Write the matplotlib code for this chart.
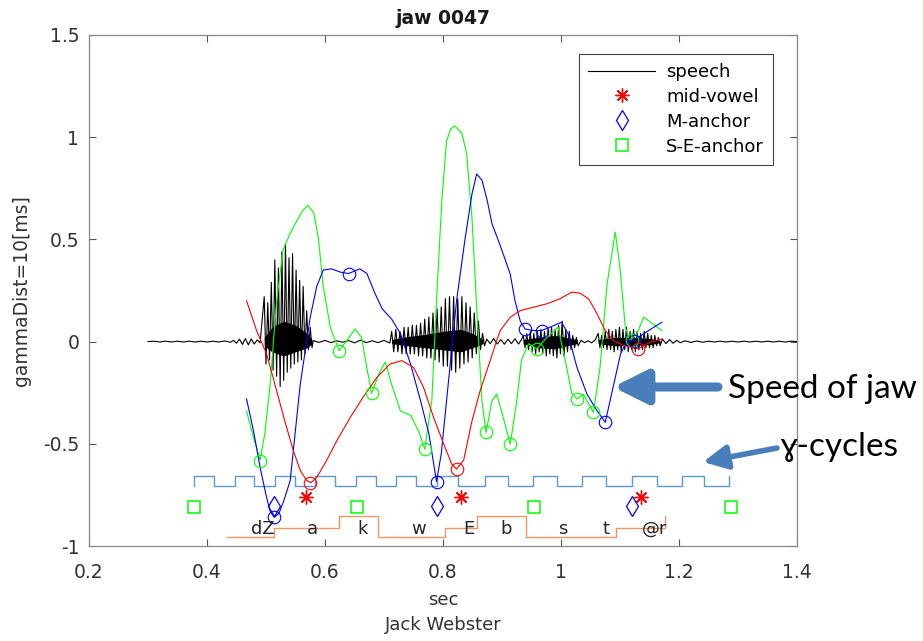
import matplotlib
matplotlib.use("Agg")
import matplotlib.pyplot as plt

plt.rcParams['font.family'] = ['DejaVu Sans']

# ---------------- data ----------------
# speech waveform: quiet parts + voiced bursts (extremes, in seconds / amplitude)
pre_t = [0.30, 0.31, 0.32, 0.33, 0.34, 0.35, 0.36, 0.37, 0.38, 0.39, 0.40, 0.41, 0.42,
         0.43, 0.44, 0.445, 0.450, 0.455, 0.460, 0.465, 0.470, 0.475, 0.480, 0.485, 0.490]
pre_v = [0.0, 0.002, -0.002, 0.002, -0.002, 0.002, -0.002, 0.002, -0.002, 0.002, -0.002,
         0.002, -0.002, 0.003, -0.003, 0.006, -0.008, 0.012, -0.014, 0.015, -0.016, 0.013,
         -0.012, 0.008, -0.006]

b1_t = [0.497, 0.500, 0.503, 0.506, 0.509, 0.512, 0.515, 0.518, 0.521, 0.524, 0.527, 0.530,
        0.533, 0.536, 0.539, 0.542, 0.545, 0.548, 0.551, 0.554, 0.557, 0.560, 0.563, 0.566,
        0.569, 0.572, 0.575, 0.578]
b1_v = [0.22, -0.11, 0.19, -0.09, 0.29, -0.14, 0.40, -0.17, 0.36, -0.22, 0.44, -0.19,
        0.48, -0.15, 0.41, -0.13, 0.43, -0.11, 0.35, -0.10, 0.30, -0.09, 0.27, -0.06,
        0.15, -0.04, 0.07, -0.03]

gap1_t = [0.58, 0.59, 0.60, 0.61, 0.62, 0.63, 0.64, 0.65, 0.66, 0.67, 0.68, 0.69, 0.70, 0.71]
gap1_v = [0.005, -0.004, 0.006, -0.005, 0.004, -0.003, 0.005, -0.006, 0.007, -0.005, 0.004,
          -0.005, 0.006, -0.007]

b2_t = [0.713, 0.7165, 0.720, 0.7235, 0.727, 0.7305, 0.734, 0.7375, 0.741, 0.7445, 0.748,
        0.7515, 0.755, 0.7585, 0.762, 0.7655, 0.769, 0.7725, 0.776, 0.7795, 0.783, 0.7865,
        0.790, 0.7935, 0.797, 0.8005, 0.804, 0.8075, 0.811, 0.8145, 0.818, 0.8215, 0.825,
        0.8285, 0.832, 0.8355, 0.839, 0.8425, 0.846, 0.8495, 0.853, 0.8565, 0.860, 0.8635,
        0.867, 0.8705]
b2_v = [0.05, -0.05, 0.06, -0.05, 0.05, -0.06, 0.07, -0.06, 0.07, -0.06, 0.08, -0.06,
        0.08, -0.07, 0.09, -0.07, 0.11, -0.08, 0.12, -0.08, 0.14, -0.09, 0.16, -0.10,
        0.17, -0.12, 0.21, -0.12, 0.22, -0.14, 0.22, -0.15, 0.21, -0.13, 0.22, -0.11,
        0.19, -0.10, 0.17, -0.08, 0.14, -0.06, 0.10, -0.04, 0.04, -0.02]

gap2_t = [0.874, 0.880, 0.886, 0.892, 0.898, 0.904, 0.910, 0.916, 0.922, 0.928, 0.933]
gap2_v = [0.012, -0.010, 0.015, -0.012, 0.010, -0.013, 0.012, -0.010, 0.014, -0.012, 0.010]

b3_t = [0.936, 0.939, 0.942, 0.945, 0.948, 0.951, 0.954, 0.957, 0.960, 0.963, 0.966, 0.969,
        0.972, 0.975, 0.978, 0.981, 0.984, 0.987, 0.990, 0.993, 0.996, 0.999, 1.002, 1.005,
        1.008, 1.011, 1.014, 1.017, 1.020, 1.023, 1.026, 1.029]
b3_v = [0.03, -0.03, 0.04, -0.04, 0.05, -0.05, 0.04, -0.06, 0.05, -0.05, 0.06, -0.06,
        0.05, -0.07, 0.06, -0.06, 0.07, -0.07, 0.06, -0.08, 0.08, -0.06, 0.10, -0.07,
        0.06, -0.05, 0.05, -0.04, 0.03, -0.03, 0.02, -0.02]

gap3_t = [1.034, 1.040, 1.046, 1.052, 1.058]
gap3_v = [0.006, -0.005, 0.004, -0.006, 0.008]

b4_t = [1.063, 1.066, 1.069, 1.072, 1.075, 1.078, 1.081, 1.084, 1.087, 1.090, 1.093, 1.096,
        1.099, 1.102, 1.105, 1.108, 1.111, 1.114, 1.117, 1.120, 1.123, 1.126, 1.129, 1.132,
        1.135, 1.138, 1.141, 1.144, 1.147, 1.150, 1.153, 1.156, 1.159, 1.162, 1.165, 1.168]
b4_v = [0.04, -0.03, 0.03, -0.03, 0.05, -0.04, 0.06, -0.04, 0.05, -0.05, 0.06, -0.04,
        0.07, -0.05, 0.06, -0.04, 0.07, -0.05, 0.05, -0.04, 0.06, -0.05, 0.05, -0.04,
        0.04, -0.04, 0.05, -0.03, 0.04, -0.03, 0.03, -0.03, 0.03, -0.02, 0.02, -0.02]

post_t = [1.172, 1.178, 1.184, 1.190, 1.196, 1.202, 1.21, 1.22, 1.23, 1.24, 1.25, 1.26,
          1.27, 1.28, 1.29, 1.30, 1.31, 1.32, 1.33, 1.34, 1.35, 1.36, 1.37, 1.38, 1.39, 1.40]
post_v = [0.012, -0.010, 0.010, -0.008, 0.006, -0.006, 0.004, -0.004, 0.003, -0.003,
          0.002, -0.002, 0.002, -0.002, 0.002, -0.002, 0.002, -0.002, 0.002, -0.002,
          0.002, -0.002, 0.002, -0.002, 0.002, 0.0]

# dense core of the voiced bursts
core_t = [[0.497, 0.51, 0.53, 0.55, 0.57, 0.578],
          [0.713, 0.74, 0.77, 0.80, 0.83, 0.85, 0.868],
          [0.936, 0.96, 0.99, 1.01, 1.027],
          [1.063, 1.09, 1.12, 1.15, 1.168]]
core_hi = [[0.02, 0.07, 0.10, 0.08, 0.04, 0.01],
           [0.01, 0.025, 0.035, 0.05, 0.06, 0.04, 0.01],
           [0.01, 0.02, 0.03, 0.02, 0.01],
           [0.01, 0.02, 0.02, 0.015, 0.005]]
core_lo = [[-0.02, -0.05, -0.07, -0.05, -0.03, -0.01],
           [-0.01, -0.02, -0.03, -0.04, -0.05, -0.03, -0.01],
           [-0.01, -0.03, -0.035, -0.02, -0.01],
           [-0.01, -0.02, -0.02, -0.015, -0.005]]

# green trace
green_t = [0.467, 0.478, 0.490, 0.498, 0.507, 0.518, 0.529, 0.541, 0.552, 0.562, 0.571,
           0.581, 0.589, 0.597, 0.609, 0.624, 0.637, 0.651, 0.662, 0.671, 0.679, 0.691,
           0.702, 0.713, 0.728, 0.745, 0.759, 0.769, 0.781, 0.789, 0.798, 0.806, 0.813,
           0.820, 0.832, 0.840, 0.849, 0.858, 0.866, 0.873, 0.883, 0.891, 0.902, 0.914,
           0.925, 0.933, 0.945, 0.959, 0.976, 0.995, 1.007, 1.018, 1.027, 1.038, 1.055,
           1.066, 1.078, 1.092, 1.100, 1.109, 1.117, 1.129, 1.140, 1.154, 1.171]
green_v = [-0.34, -0.46, -0.58, -0.45, -0.21, 0.20, 0.45, 0.53, 0.59, 0.64, 0.667,
           0.63, 0.50, 0.27, 0.07, -0.044, 0.005, 0.062, 0.02, -0.13, -0.253, -0.16,
           -0.10, -0.21, -0.34, -0.36, -0.44, -0.526, -0.29, 0.20, 0.69, 0.98, 1.04,
           1.055, 1.02, 0.92, 0.61, 0.12, -0.29, -0.444, -0.29, -0.257, -0.37, -0.502,
           -0.29, -0.09, -0.01, -0.035, 0.02, 0.07, -0.09, -0.25, -0.281, -0.257, -0.346,
           -0.13, 0.28, 0.536, 0.36, 0.07, 0.005, 0.04, 0.12, 0.09, 0.054]
green_mt = [0.490, 0.624, 0.679, 0.769, 0.873, 0.914, 0.959, 1.027, 1.055, 1.120]
green_mv = [-0.583, -0.044, -0.253, -0.526, -0.444, -0.502, -0.035, -0.281, -0.346, 0.01]

# blue trace
blue_t = [0.467, 0.479, 0.490, 0.500, 0.507, 0.514, 0.522, 0.530, 0.541, 0.558, 0.575,
          0.586, 0.597, 0.611, 0.626, 0.640, 0.659, 0.671, 0.685, 0.697, 0.713, 0.728,
          0.745, 0.762, 0.776, 0.789, 0.797, 0.806, 0.823, 0.837, 0.849, 0.857, 0.866,
          0.875, 0.883, 0.897, 0.914, 0.922, 0.931, 0.939, 0.953, 0.967, 0.981, 1.001,
          1.012, 1.027, 1.044, 1.061, 1.075, 1.087, 1.101, 1.112, 1.123, 1.140, 1.157, 1.171]
blue_v = [-0.28, -0.44, -0.615, -0.75, -0.83, -0.86, -0.84, -0.78, -0.68, -0.21, 0.12,
          0.27, 0.35, 0.356, 0.34, 0.333, 0.356, 0.333, 0.234, 0.16, 0.11, 0.038,
          -0.11, -0.29, -0.45, -0.685, -0.55, -0.29, 0.20, 0.495, 0.72, 0.82, 0.79,
          0.69, 0.577, 0.47, 0.33, 0.20, 0.10, 0.062, 0.054, 0.054, 0.07, 0.095,
          0.038, -0.126, -0.257, -0.338, -0.395, -0.24, -0.06, 0.005, 0.005, 0.038, 0.07, 0.095]
blue_mt = [0.514, 0.640, 0.789, 0.939, 0.967, 1.075, 1.123]
blue_mv = [-0.86, 0.333, -0.685, 0.062, 0.054, -0.395, 0.005]

# red trace
red_t = [0.467, 0.484, 0.501, 0.518, 0.532, 0.546, 0.558, 0.569, 0.576, 0.586, 0.603,
         0.620, 0.643, 0.665, 0.688, 0.710, 0.730, 0.750, 0.767, 0.784, 0.801, 0.815,
         0.823, 0.835, 0.849, 0.863, 0.880, 0.891, 0.897, 0.914, 0.931, 0.953, 0.976,
         0.998, 1.018, 1.032, 1.047, 1.061, 1.075, 1.089, 1.106, 1.131, 1.151, 1.171]
red_v = [0.20, 0.054, -0.06, -0.24, -0.39, -0.53, -0.63, -0.68, -0.69, -0.665, -0.58,
         -0.485, -0.37, -0.27, -0.175, -0.11, -0.093, -0.126, -0.224, -0.37, -0.50, -0.60,
         -0.624, -0.58, -0.39, -0.24, -0.093, 0.005, 0.054, 0.119, 0.152, 0.168, 0.185,
         0.209, 0.242, 0.237, 0.209, 0.136, 0.054, 0.005, -0.019, -0.035, -0.003, 0.013]
red_mt = [0.575, 0.823, 1.131]
red_mv = [-0.69, -0.624, -0.035]

# anchors
mid_vowel_t = [0.568, 0.831, 1.136]
mid_vowel_v = [-0.76, -0.76, -0.76]
m_anchor_t = [0.514, 0.790, 1.121]
m_anchor_v = [-0.805, -0.805, -0.805]
se_anchor_t = [0.378, 0.655, 0.954, 1.288]
se_anchor_v = [-0.807, -0.807, -0.807, -0.807]

# gamma cycles (square wave edges)
gam_edges = [0.378, 0.378, 0.412, 0.447, 0.480, 0.515, 0.549, 0.583, 0.617, 0.652, 0.686,
             0.720, 0.754, 0.789, 0.825, 0.871, 0.911, 0.953, 0.993, 1.035, 1.077, 1.120,
             1.162, 1.205, 1.243, 1.285]
gam_lo, gam_hi = -0.706, -0.657

# phoneme segmentation
seg_edges = [0.434, 0.514, 0.623, 0.689, 0.803, 0.857, 0.941, 1.094, 1.176]
seg_levels = [-0.958, -0.91, -0.853, -0.958, -0.91, -0.853, -0.958, -0.91, -0.853]
phones = ['dZ', 'a', 'k', 'w', 'E', 'b', 's', 't', '@r']
phone_t = [0.495, 0.578, 0.664, 0.759, 0.844, 0.907, 1.003, 1.077, 1.158]
phone_v = -0.917

# ---------------- figure ----------------
fig = plt.figure(figsize=(9.23, 6.41), dpi=100)
ax = fig.add_axes([89 / 923, 95 / 641, 708 / 923, 511 / 641])

speech_t = pre_t + b1_t + gap1_t + b2_t + gap2_t + b3_t + gap3_t + b4_t + post_t
speech_v = pre_v + b1_v + gap1_v + b2_v + gap2_v + b3_v + gap3_v + b4_v + post_v
ax.plot(speech_t, speech_v, color='black', lw=0.8, label='speech', zorder=2)
for ct, ch, cl in zip(core_t, core_hi, core_lo):
    ax.fill_between(ct, cl, ch, color='black', lw=0, zorder=2)

ax.plot(green_t, green_v, color='#00ff00', lw=0.8, zorder=3)
ax.plot(blue_t, blue_v, color='#0000ff', lw=0.8, zorder=3)
ax.plot(red_t, red_v, color='#ff0000', lw=0.8, zorder=3)
ax.plot(green_mt, green_mv, 'o', mfc='none', mec='#00ff00', ms=9, mew=0.8, zorder=3)
ax.plot(blue_mt, blue_mv, 'o', mfc='none', mec='#0000ff', ms=9, mew=0.8, zorder=3)
ax.plot(red_mt, red_mv, 'o', mfc='none', mec='#ff0000', ms=9, mew=0.8, zorder=3)

gam_levels = [gam_lo, gam_hi] * (len(gam_edges) // 2)
ax.plot(gam_edges, gam_levels, drawstyle='steps-post', color='#5b9bd5', lw=1.0, zorder=2)
ax.plot(seg_edges, seg_levels, drawstyle='steps-post', color='#f0956a', lw=1.0, zorder=2)

asterisk = (8, 2, 0)
ax.plot(mid_vowel_t, mid_vowel_v, marker=asterisk, color='#ff0000', ms=10, mew=1.0,
        ls='none', label='mid-vowel', zorder=4)
ax.plot(m_anchor_t, m_anchor_v, 'd', mfc='none', mec='#0000ff', ms=10, mew=0.9, ls='none',
        label='M-anchor', zorder=4)
ax.plot(se_anchor_t, se_anchor_v, 's', mfc='none', mec='#00ff00', ms=8, mew=1.1, ls='none',
        label='S-E-anchor', zorder=4)

for ph, pt in zip(phones, phone_t):
    ax.text(pt, phone_v, ph, ha='center', va='center', fontsize=13, color='#262626', zorder=5)

ax.set_xlim(0.2, 1.4)
ax.set_ylim(-1, 1.5)
ax.set_xticks([0.2, 0.4, 0.6, 0.8, 1.0, 1.2, 1.4])
ax.set_xticklabels(['0.2', '0.4', '0.6', '0.8', '1', '1.2', '1.4'])
ax.set_yticks([-1, -0.5, 0, 0.5, 1, 1.5])
ax.set_yticklabels(['-1', '-0.5', '0', '0.5', '1', '1.5'])
ax.tick_params(direction='in', top=True, right=True, length=5, width=0.8,
               color='#555555', labelsize=13.5, labelcolor='#333333')
ax.tick_params(axis='x', pad=12)
ax.tick_params(axis='y', pad=7)
for s in ax.spines.values():
    s.set_color('#888888')
    s.set_linewidth(0.9)

ax.set_title('jaw 0047', fontsize=13.5, fontweight='bold', color='#1a1a1a', pad=8)
ax.set_xlabel('sec\nJack Webster', fontsize=13, color='#333333', linespacing=1.5, labelpad=7)
ax.set_ylabel('gammaDist=10[ms]', fontsize=13.5, color='#333333', labelpad=9)

leg = ax.legend(loc='upper right', bbox_to_anchor=(0.966, 0.963), fontsize=13,
                handlelength=3.7, handletextpad=0.6, borderpad=0.5, labelspacing=0.38,
                borderaxespad=0, fancybox=False, framealpha=1, edgecolor='#444444')
leg.get_frame().set_linewidth(0.8)

# annotations (figure pixel coordinates, origin bottom-left)
arrow_col = '#4a7ebb'
ax.annotate('', xy=(613, 641 - 387), xytext=(718, 641 - 387), xycoords='figure pixels',
            textcoords='figure pixels',
            arrowprops=dict(arrowstyle='-|>,head_length=1.0,head_width=0.5', lw=6.5,
                            color=arrow_col, mutation_scale=20, capstyle='round',
                            joinstyle='round', shrinkA=0, shrinkB=0))
fig.text(728 / 923, 1 - 389 / 641, 'Speed of jaw', fontsize=24, ha='left', va='center',
         family=['Lato', 'DejaVu Sans'], color='black')
ax.annotate('', xy=(703, 641 - 462), xytext=(777, 641 - 448), xycoords='figure pixels',
            textcoords='figure pixels',
            arrowprops=dict(arrowstyle='-|>,head_length=0.9,head_width=0.45', lw=4,
                            color=arrow_col, mutation_scale=16, capstyle='round',
                            joinstyle='round', shrinkA=0, shrinkB=0))
fig.text(780 / 923, 1 - 447 / 641, 'ɣ-cycles', fontsize=24, ha='left', va='center',
         family=['Lato', 'DejaVu Sans'], color='black')

fig.savefig('out.png', dpi=100)
